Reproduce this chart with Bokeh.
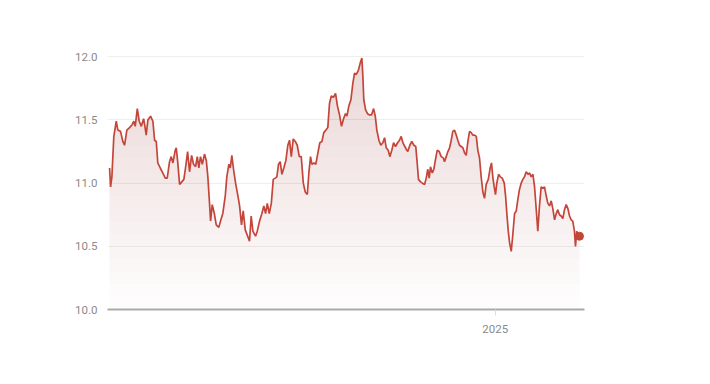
import numpy as np
import pandas as pd
from bokeh.plotting import figure
from bokeh.models import Range1d, FixedTicker, ColumnDataSource
from bokeh.embed import file_html
from bokeh.resources import INLINE

# ---------------- data ----------------
start_date = "2024-03-08"
day_offsets = [
    0, 0.8, 1.8, 3.3, 5.2, 6.4, 8.5, 10.3, 11.6, 13.4, 15.5, 17.3, 18.8, 19.9, 21.5, 23.0, 24.6,
    26.4, 27.4, 28.4, 29.7, 31.8, 33.6, 34.9, 36.2, 37.4, 39.3, 41.3, 43.2, 44.7, 46.5, 47.8,
    49.1, 50.9, 51.7, 52.9, 54.3, 56.0, 57.6, 58.9, 60.5, 62.0, 63.6, 65.1, 66.7, 68.0, 69.2,
    70.5, 71.9, 73.6, 75.0, 76.2, 77.5, 78.3, 79.6, 81.2, 82.7, 84.7, 86.3, 87.8, 89.7, 90.9,
    92.5, 93.6, 94.8, 96.1, 97.7, 99.5, 100.8, 102.3, 103.6, 105.2, 106.7, 108.5, 109.8, 111.1,
    113.2, 114.5, 116.3, 118.1, 119.6, 120.9, 122.3, 123.8, 125.4, 126.9, 128.5, 129.7, 131.0,
    132.3, 133.6, 135.1, 136.7, 138.2, 139.5, 140.9, 142.4, 144.0, 145.5, 147.1, 148.6, 150.2,
    151.7, 153.3, 154.5, 155.8, 156.8, 158.4, 159.9, 161.5, 163.0, 164.6, 166.1, 167.7, 169.2,
    170.5, 171.9, 173.6, 175.2, 176.7, 178.3, 179.8, 181.4, 182.9, 184.0, 185.5, 187.1, 188.6,
    189.9, 191.2, 192.8, 194.3, 195.6, 196.4, 197.1, 198.5, 200.0, 201.6, 203.1, 204.7, 206.0,
    207.2, 208.8, 210.3, 211.9, 213.2, 214.5, 216.0, 217.3, 218.8, 220.2, 221.7, 223.3, 224.8,
    226.1, 227.4, 228.9, 230.5, 231.2, 232.8, 234.3, 235.9, 237.4, 238.5, 239.5, 241.1, 242.6,
    244.2, 245.5, 246.7, 247.8, 248.8, 250.2, 251.4, 252.9, 254.0, 255.6, 257.1, 258.7, 259.7,
    261.0, 262.3, 263.6, 264.9, 266.1, 267.4, 268.8, 270.0, 271.3, 272.6, 273.9, 275.2, 276.5,
    277.8, 279.1, 280.4, 281.6, 282.9, 284.3, 285.5, 286.8, 288.1, 289.4, 290.7, 292.0, 293.6,
    295.1, 296.1, 297.1, 298.2, 299.2, 300.2, 301.6, 302.9, 304.4, 306.0, 307.0, 308.0, 309.1,
    310.1, 311.4, 312.6, 314.0, 315.3, 316.5, 317.8, 319.1, 320.4, 321.7, 323.0, 324.3, 325.6,
    326.9, 328.2, 329.5, 330.8, 332.0, 333.3, 334.6, 335.9, 337.2, 338.5, 339.8, 341.1, 342.4,
    343.6, 345.0, 346.3, 347.5, 348.8, 350.1, 351.4, 352.7, 354.0, 355.3, 356.6, 357.9, 359.1,
    360.4, 361.2, 362.2, 363.3, 364.3,
]
prices = [
    11.12, 10.97, 11.05, 11.37, 11.49, 11.42, 11.41, 11.33, 11.30, 11.42, 11.44, 11.46, 11.49, 11.45, 11.59, 11.49, 11.45,
    11.51, 11.45, 11.38, 11.50, 11.53, 11.49, 11.34, 11.33, 11.16, 11.12, 11.08, 11.04, 11.04, 11.17, 11.21,
    11.16, 11.26, 11.28, 11.16, 10.99, 11.01, 11.03, 11.12, 11.25, 11.09, 11.22, 11.15, 11.13, 11.21, 11.12,
    11.21, 11.15, 11.23, 11.18, 11.05, 10.84, 10.70, 10.83, 10.76, 10.67, 10.65, 10.71, 10.76, 10.90, 11.05,
    11.15, 11.12, 11.22, 11.11, 11.00, 10.90, 10.82, 10.67, 10.78, 10.63, 10.59, 10.54, 10.74, 10.62,
    10.58, 10.62, 10.70, 10.76, 10.82, 10.76, 10.84, 10.76, 10.84, 11.03, 11.04, 11.05, 11.15,
    11.17, 11.07, 11.12, 11.18, 11.30, 11.34, 11.21, 11.35, 11.33, 11.30, 11.21, 11.21, 11.00,
    10.93, 10.91, 11.08, 11.21, 11.15, 11.16, 11.15, 11.24, 11.32, 11.33, 11.40, 11.42, 11.44,
    11.63, 11.69, 11.68, 11.71, 11.61, 11.54, 11.45, 11.51, 11.55, 11.53, 11.61, 11.66, 11.79,
    11.87, 11.86, 11.89, 11.95, 11.99, 11.84, 11.66, 11.58, 11.55, 11.54, 11.54, 11.59, 11.53,
    11.42, 11.34, 11.30, 11.32, 11.36, 11.28, 11.26, 11.21, 11.26, 11.32, 11.29, 11.32, 11.34,
    11.37, 11.32, 11.29, 11.26, 11.25, 11.30, 11.33, 11.30, 11.29, 11.16, 11.03, 11.01, 11.00,
    10.99, 11.04, 11.11, 11.04, 11.13, 11.08, 11.11, 11.20, 11.26, 11.25, 11.21, 11.20, 11.17,
    11.21, 11.25, 11.28, 11.34, 11.41, 11.42, 11.38, 11.34, 11.30, 11.29, 11.28, 11.24, 11.22,
    11.33, 11.41, 11.40, 11.38, 11.38, 11.37, 11.26, 11.20, 11.05, 10.93, 10.88, 10.99, 11.03,
    11.12, 11.16, 11.05, 10.97, 10.91, 11.00, 11.07, 11.05, 11.04, 11.00, 10.90, 10.76, 10.62,
    10.53, 10.46, 10.59, 10.76, 10.78, 10.87, 10.95, 11.00, 11.03, 11.05, 11.09, 11.07, 11.08,
    11.05, 11.07, 10.97, 10.79, 10.62, 10.82, 10.97, 10.96, 10.97, 10.90, 10.84, 10.82, 10.86,
    10.80, 10.71, 10.76, 10.79, 10.75, 10.74, 10.72, 10.79, 10.83, 10.80, 10.74, 10.71, 10.70,
    10.62, 10.50, 10.62, 10.58, 10.58,
]
y_ticks = [10.0, 10.5, 11.0, 11.5, 12.0]
y_labels = ["10.0", "10.5", "11.0", "11.5", "12.0"]
x_tick_date = "2025-01-01"
x_tick_label = "2025"

# ---------------- build ----------------
start = pd.Timestamp(start_date)
dates = start + pd.to_timedelta(np.array(day_offsets), unit="D")
vals = np.array(prices)

LINE = "#c4463a"
FILL = "#d2453c"
FONT = "Roboto, sans-serif"

x_start = start - pd.Timedelta(days=1.6)
x_end = start + pd.Timedelta(days=368.2)

p = figure(
    x_axis_type="datetime",
    frame_width=477, frame_height=259,
    min_border_left=107, min_border_top=50, min_border_right=20, min_border_bottom=30,
    x_range=Range1d(x_start, x_end), y_range=Range1d(10.0, 12.05),
    output_backend="svg", toolbar_location=None,
    background_fill_color="white", border_fill_color="white",
)
p.outline_line_color = None

# gradient-like fill: stacked translucent bands above fixed levels
for lvl in np.arange(10.0, 12.0, 0.1):
    y1 = np.minimum(vals, lvl)
    src = ColumnDataSource(dict(x=dates, y1=y1, y2=vals))
    p.varea(x="x", y1="y1", y2="y2", source=src, fill_color=FILL, fill_alpha=0.011)

src_line = ColumnDataSource(dict(x=dates, y=vals))
p.line(x="x", y="y", source=src_line, line_color=LINE, line_width=1.7)
p.scatter(x=[dates[-1]], y=[vals[-1]], size=8, color=LINE)

# y axis
p.yaxis.ticker = FixedTicker(ticks=y_ticks)
p.yaxis.major_label_overrides = {t: l for t, l in zip(y_ticks, y_labels)}
p.yaxis.axis_line_color = None
p.yaxis.major_tick_line_color = None
p.yaxis.minor_tick_line_color = None
p.yaxis.major_label_standoff = 4
p.yaxis.major_label_text_color = "#8a8a8a"
p.yaxis.major_label_text_font = FONT
p.yaxis.major_label_text_font_size = "11.5px"

# x axis
tick_ms = pd.Timestamp(x_tick_date).value / 1e6
p.xaxis.ticker = FixedTicker(ticks=[tick_ms])
p.xaxis.major_label_overrides = {tick_ms: x_tick_label}
p.xaxis.axis_line_color = "#aaaaaa"
p.xaxis.axis_line_width = 2
p.xaxis.major_tick_line_color = "#dddddd"
p.xaxis.major_tick_in = 0
p.xaxis.major_tick_out = 6
p.xaxis.minor_tick_line_color = None
p.xaxis.major_label_standoff = 9
p.xaxis.major_label_text_color = "#8a8a8a"
p.xaxis.major_label_text_font = FONT
p.xaxis.major_label_text_font_size = "11.5px"

p.xgrid.grid_line_color = None
p.ygrid.ticker = FixedTicker(ticks=y_ticks)
p.ygrid.grid_line_color = "#eeeeee"
p.ygrid.grid_line_width = 1

open("out.html", "w").write(file_html(p, INLINE))
